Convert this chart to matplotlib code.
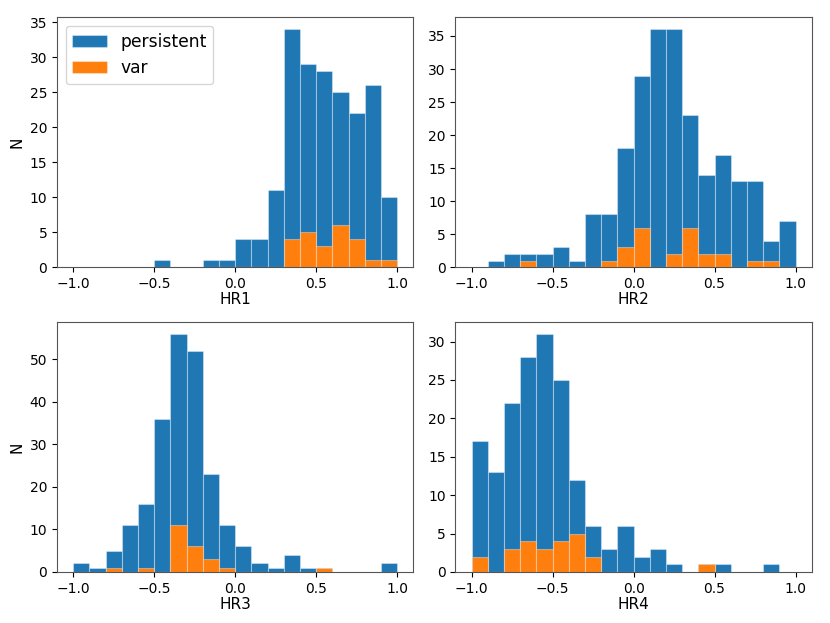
import numpy as np
import matplotlib
matplotlib.use("Agg")
import matplotlib.pyplot as plt

edges = np.round(np.linspace(-1.0, 1.0, 21), 2)
centers = (edges[:-1] + edges[1:]) / 2

hr1_persistent = [0, 0, 0, 0, 0, 1, 0, 0, 1, 1, 4, 4, 11, 34, 29, 28, 25, 22, 26, 10]
hr1_var        = [0, 0, 0, 0, 0, 0, 0, 0, 0, 0, 0, 0, 0, 4, 5, 3, 6, 4, 1, 1]

hr2_persistent = [0, 1, 2, 2, 2, 3, 1, 8, 8, 18, 29, 36, 36, 23, 14, 17, 13, 13, 4, 7]
hr2_var        = [0, 0, 0, 1, 0, 0, 0, 0, 1, 3, 6, 0, 2, 6, 2, 2, 0, 1, 1, 0]

hr3_persistent = [2, 1, 5, 11, 16, 36, 56, 52, 23, 11, 6, 2, 1, 4, 1, 1, 0, 0, 0, 2]
hr3_var        = [0, 0, 1, 0, 1, 0, 11, 6, 3, 1, 0, 0, 0, 0, 0, 1, 0, 0, 0, 0]

hr4_persistent = [17, 13, 22, 28, 31, 25, 12, 6, 3, 6, 2, 3, 1, 0, 1, 1, 0, 0, 1, 0]
hr4_var        = [2, 0, 3, 4, 3, 4, 5, 2, 0, 0, 0, 0, 0, 0, 1, 0, 0, 0, 0, 0]

panels = [
    ("HR1", hr1_persistent, hr1_var),
    ("HR2", hr2_persistent, hr2_var),
    ("HR3", hr3_persistent, hr3_var),
    ("HR4", hr4_persistent, hr4_var),
]

fig, axes = plt.subplots(2, 2, figsize=(8.3, 6.23), dpi=100)
fig.subplots_adjust(left=0.0687, right=0.978, top=0.972, bottom=0.082,
                    wspace=0.118, hspace=0.219)

edge_kw = dict(edgecolor=(1, 1, 1, 0.35), linewidth=0.8)
for ax, (name, pers, var) in zip(axes.flat, panels):
    ax.hist(centers, bins=edges, weights=pers, color="#1f77b4",
            label="persistent", **edge_kw)
    ax.hist(centers, bins=edges, weights=var, color="#ff7f0e",
            label="var", **edge_kw)
    ax.set_xlabel(name, fontsize=11, labelpad=1)
    ax.set_xticks([-1.0, -0.5, 0.0, 0.5, 1.0])
    ax.tick_params(labelsize=10)
    for s in ax.spines.values():
        s.set_edgecolor("#555555")

axes[0, 0].set_ylabel("N", fontsize=11)
axes[1, 0].set_ylabel("N", fontsize=11)
axes[0, 0].legend(loc="upper left", fontsize=12.3)

fig.savefig("out.png", dpi=100)
